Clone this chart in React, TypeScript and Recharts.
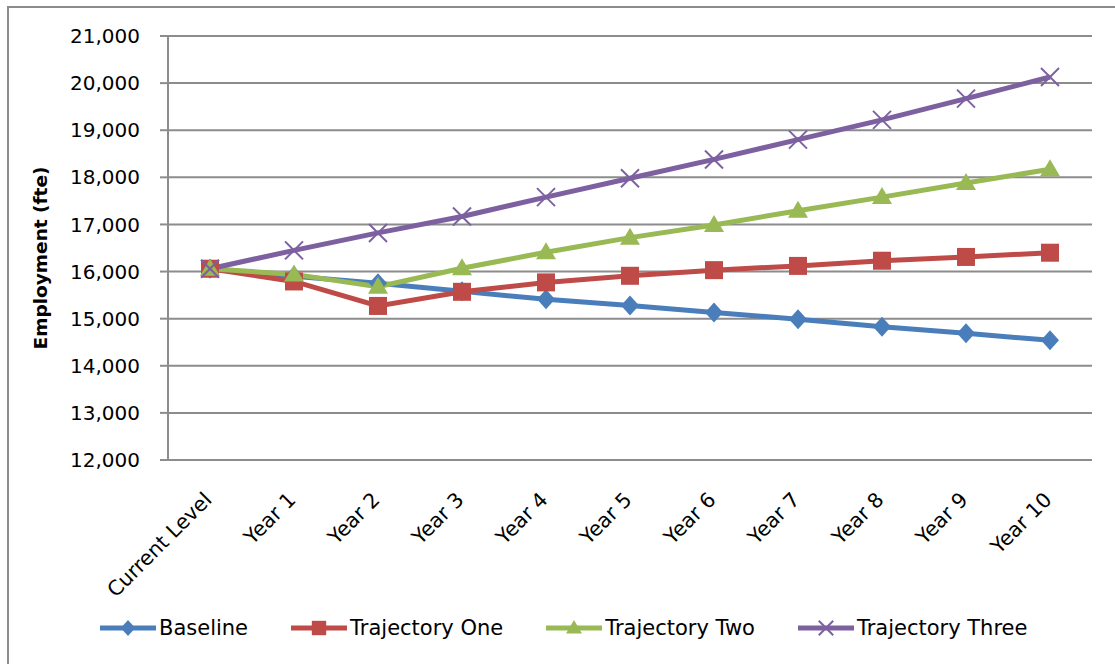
import React from 'react';
import { LineChart, Line, XAxis, YAxis, CartesianGrid, Legend, Label } from 'recharts';

const categories = ['Current Level', 'Year 1', 'Year 2', 'Year 3', 'Year 4', 'Year 5', 'Year 6', 'Year 7', 'Year 8', 'Year 9', 'Year 10'];
const baseline = [16060, 15900, 15750, 15580, 15410, 15280, 15130, 14990, 14830, 14690, 14540];
const trajectoryOne = [16060, 15790, 15270, 15570, 15770, 15910, 16030, 16120, 16230, 16310, 16400];
const trajectoryTwo = [16060, 15940, 15680, 16070, 16410, 16720, 16990, 17290, 17580, 17880, 18170];
const trajectoryThree = [16060, 16450, 16820, 17170, 17580, 17980, 18380, 18800, 19220, 19670, 20130];
const yTicks = [12000, 13000, 14000, 15000, 16000, 17000, 18000, 19000, 20000, 21000];

const FONT = '"DejaVu Sans", sans-serif';
const GRID = '#8c8c8c';

const data = categories.map((name, i) => ({
  idx: i,
  name,
  baseline: baseline[i],
  one: trajectoryOne[i],
  two: trajectoryTwo[i],
  three: trajectoryThree[i],
}));

const idxTicks = categories.map((_, i) => i);
const boundaryTicks = [...categories.map((_, i) => i - 0.5), categories.length - 0.5];

type Shape = 'diamond' | 'square' | 'triangle' | 'x';

const series: { key: string; name: string; color: string; shape: Shape }[] = [
  { key: 'baseline', name: 'Baseline', color: '#4A7EBB', shape: 'diamond' },
  { key: 'one', name: 'Trajectory One', color: '#BE4B48', shape: 'square' },
  { key: 'two', name: 'Trajectory Two', color: '#98B954', shape: 'triangle' },
  { key: 'three', name: 'Trajectory Three', color: '#7D60A0', shape: 'x' },
];

function markerShape(shape: Shape, color: string, cx: number, cy: number, s: number, key?: any) {
  if (shape === 'diamond') {
    return (
      <polygon key={key} points={`${cx},${cy - 10 * s} ${cx + 9 * s},${cy} ${cx},${cy + 10 * s} ${cx - 9 * s},${cy}`} fill={color} />
    );
  }
  if (shape === 'square') {
    return <rect key={key} x={cx - 9 * s} y={cy - 9 * s} width={18 * s} height={18 * s} fill={color} />;
  }
  if (shape === 'triangle') {
    return (
      <polygon key={key} points={`${cx},${cy - 10 * s} ${cx + 10 * s},${cy + 7 * s} ${cx - 10 * s},${cy + 7 * s}`} fill={color} />
    );
  }
  return (
    <g key={key}>
      <line x1={cx - 9 * s} y1={cy - 9 * s} x2={cx + 9 * s} y2={cy + 9 * s} stroke={color} strokeWidth={2} />
      <line x1={cx - 9 * s} y1={cy + 9 * s} x2={cx + 9 * s} y2={cy - 9 * s} stroke={color} strokeWidth={2} />
    </g>
  );
}

const makeDot = (shape: Shape, color: string) => (props: any) => {
  const { cx, cy, index } = props;
  if (cx == null || cy == null) return <g key={`d-${index}`} />;
  return markerShape(shape, color, cx, cy, 1, `d-${shape}-${index}`);
};

const XTick = (props: any) => {
  const { x, y, payload } = props;
  const ax = x + 3;
  const ay = y + 41;
  return (
    <text x={ax} y={ay} transform={`rotate(-45, ${ax}, ${ay})`} textAnchor="end" fontSize={20.5} fontFamily={FONT} fill="#000">
      {categories[payload.value]}
    </text>
  );
};

const YLabel = (props: any) => {
  const vb = props.viewBox || { x: 0, y: 0, width: 0, height: 0 };
  const lx = vb.x + 40;
  const ly = vb.y + vb.height / 2 + 10;
  return (
    <text x={lx} y={ly} transform={`rotate(-90, ${lx}, ${ly})`} textAnchor="middle" dominantBaseline="central" fontSize={18.5} fontWeight="bold" fontFamily={FONT} fill="#000">
      Employment (fte)
    </text>
  );
};

const LegendContent = () => (
  <div style={{ height: 30, display: 'flex', alignItems: 'center', paddingLeft: 100, fontFamily: FONT, fontSize: 21, color: '#000' }}>
    {series.map((s) => (
      <div key={s.key} style={{ display: 'flex', alignItems: 'center', marginRight: 43 }}>
        <svg width={56} height={24} style={{ display: 'block' }}>
          <line x1={0} y1={12} x2={56} y2={12} stroke={s.color} strokeWidth={5} />
          {markerShape(s.shape, s.color, 28, 12, 0.8)}
        </svg>
        <span style={{ marginLeft: 3, whiteSpace: 'nowrap' }}>{s.name}</span>
      </div>
    ))}
  </div>
);

export default function App() {
  return (
    <div style={{ position: 'absolute', left: 0, top: 0, width: 1115, height: 664, overflow: 'hidden', background: '#fff' }}>
      <div style={{ position: 'absolute', left: 7, top: 6, width: 1130, height: 680, border: '2px solid #8c8c8c', boxSizing: 'border-box' }} />
      <div style={{ position: 'absolute', left: 0, top: 0 }}>
        <LineChart width={1115} height={664} data={data} margin={{ top: 36, right: 23, bottom: 21, left: 0 }}>
          <CartesianGrid xAxisId="ticks" vertical={false} stroke={GRID} strokeWidth={2} />
          <XAxis
            xAxisId="ticks"
            dataKey="idx"
            type="number"
            domain={[-0.5, categories.length - 0.5]}
            ticks={boundaryTicks}
            interval={0}
            height={0}
            tick={false}
            tickSize={8}
            tickLine={{ stroke: GRID, strokeWidth: 2 }}
            axisLine={{ stroke: GRID, strokeWidth: 2 }}
          />
          <XAxis
            xAxisId="labels"
            dataKey="idx"
            type="number"
            domain={[-0.5, categories.length - 0.5]}
            ticks={idxTicks}
            interval={0}
            height={153}
            tickSize={0}
            tickMargin={0}
            tickLine={false}
            axisLine={false}
            tick={<XTick />}
          />
          <YAxis
            width={168}
            domain={[12000, 21000]}
            ticks={yTicks}
            interval={0}
            tickSize={8}
            tickMargin={20}
            tickFormatter={(v: number) => v.toLocaleString('en-US')}
            tick={{ fill: '#000', fontSize: 20, fontFamily: FONT }}
            tickLine={{ stroke: GRID, strokeWidth: 2 }}
            axisLine={{ stroke: GRID, strokeWidth: 2 }}
          >
            <Label content={<YLabel />} />
          </YAxis>
          <Legend verticalAlign="bottom" content={<LegendContent />} />
          {series.map((s) => (
            <Line
              key={s.key}
              xAxisId="ticks"
              dataKey={s.key}
              name={s.name}
              stroke={s.color}
              strokeWidth={5}
              dot={makeDot(s.shape, s.color)}
              activeDot={false}
              isAnimationActive={false}
            />
          ))}
        </LineChart>
      </div>
    </div>
  );
}
